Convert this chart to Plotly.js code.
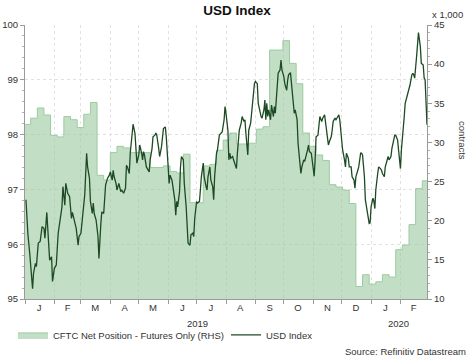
<!DOCTYPE html>
<html><head><meta charset="utf-8">
<script src="https://cdn.plot.ly/plotly-3.0.1.min.js"></script>
<style>html,body{margin:0;padding:0;background:#fff}#chart{width:474px;height:363px}</style>
</head><body><div id="chart"></div>
<script>
// USD Index (left axis)
const usdDates = [
'2019-01-02','2019-01-03','2019-01-04','2019-01-06','2019-01-07','2019-01-09','2019-01-10','2019-01-12','2019-01-13','2019-01-15','2019-01-17','2019-01-19','2019-01-21','2019-01-22','2019-01-24','2019-01-26','2019-01-27','2019-01-29','2019-01-30',
'2019-02-01','2019-02-03','2019-02-05','2019-02-07','2019-02-09','2019-02-10','2019-02-12','2019-02-13','2019-02-15','2019-02-17','2019-02-19','2019-02-20','2019-02-22','2019-02-24','2019-02-26','2019-02-27',
'2019-03-01','2019-03-03','2019-03-05','2019-03-07','2019-03-08','2019-03-10','2019-03-11','2019-03-13','2019-03-14','2019-03-15','2019-03-17','2019-03-19','2019-03-20','2019-03-22','2019-03-23','2019-03-25','2019-03-26','2019-03-27','2019-03-29','2019-03-31',
'2019-04-01','2019-04-03','2019-04-04','2019-04-05','2019-04-07','2019-04-08','2019-04-10','2019-04-12','2019-04-13','2019-04-15','2019-04-17','2019-04-18','2019-04-19','2019-04-21','2019-04-22','2019-04-24','2019-04-25','2019-04-27','2019-04-28','2019-04-29',
'2019-05-01','2019-05-02','2019-05-04','2019-05-05','2019-05-06','2019-05-07','2019-05-09','2019-05-11','2019-05-12','2019-05-13','2019-05-15','2019-05-16','2019-05-18','2019-05-19','2019-05-20','2019-05-22','2019-05-23','2019-05-25','2019-05-26','2019-05-27','2019-05-29','2019-05-30',
'2019-06-01','2019-06-02','2019-06-03','2019-06-05','2019-06-06','2019-06-08','2019-06-09','2019-06-10','2019-06-11','2019-06-13','2019-06-14','2019-06-15','2019-06-17','2019-06-18','2019-06-20','2019-06-21','2019-06-22','2019-06-24','2019-06-25','2019-06-27','2019-06-28','2019-06-29',
'2019-07-01','2019-07-02','2019-07-04','2019-07-05','2019-07-06','2019-07-08','2019-07-09','2019-07-11','2019-07-12','2019-07-13','2019-07-15','2019-07-16','2019-07-18','2019-07-19','2019-07-20','2019-07-22','2019-07-23','2019-07-25','2019-07-27','2019-07-28','2019-07-30','2019-07-31',
'2019-08-01','2019-08-03','2019-08-04','2019-08-05','2019-08-06','2019-08-08','2019-08-09','2019-08-11','2019-08-12','2019-08-13','2019-08-14','2019-08-15','2019-08-17','2019-08-18','2019-08-20','2019-08-21','2019-08-22','2019-08-24','2019-08-25','2019-08-27','2019-08-28','2019-08-29','2019-08-31',
'2019-09-01','2019-09-03','2019-09-04','2019-09-06','2019-09-07','2019-09-08','2019-09-10','2019-09-11','2019-09-12','2019-09-13','2019-09-14','2019-09-15','2019-09-17','2019-09-18','2019-09-20','2019-09-21','2019-09-22','2019-09-24','2019-09-25','2019-09-27','2019-09-28','2019-09-29',
'2019-10-01','2019-10-02','2019-10-04','2019-10-05','2019-10-06','2019-10-08','2019-10-09','2019-10-11','2019-10-12','2019-10-13','2019-10-15','2019-10-16','2019-10-18','2019-10-19','2019-10-20','2019-10-22','2019-10-23','2019-10-25','2019-10-26','2019-10-27','2019-10-28','2019-10-30','2019-10-31',
'2019-11-01','2019-11-02','2019-11-03','2019-11-04','2019-11-06','2019-11-07','2019-11-08','2019-11-10','2019-11-11','2019-11-13','2019-11-14','2019-11-15','2019-11-17','2019-11-18','2019-11-20','2019-11-21','2019-11-22','2019-11-24','2019-11-25','2019-11-27','2019-11-28','2019-11-29',
'2019-12-01','2019-12-02','2019-12-04','2019-12-05','2019-12-06','2019-12-08','2019-12-09','2019-12-11','2019-12-12','2019-12-14','2019-12-15','2019-12-16','2019-12-18','2019-12-19','2019-12-21','2019-12-22','2019-12-23','2019-12-25','2019-12-26','2019-12-28','2019-12-29','2019-12-30','2019-12-31',
'2020-01-01','2020-01-03','2020-01-04','2020-01-05','2020-01-06','2020-01-08','2020-01-09','2020-01-11','2020-01-12','2020-01-13','2020-01-15','2020-01-16','2020-01-18','2020-01-19','2020-01-20','2020-01-22','2020-01-23','2020-01-25','2020-01-26','2020-01-27','2020-01-29','2020-01-30',
'2020-02-01','2020-02-02','2020-02-03','2020-02-05','2020-02-06','2020-02-08','2020-02-09','2020-02-10','2020-02-11','2020-02-13','2020-02-14','2020-02-15','2020-02-16','2020-02-18','2020-02-19','2020-02-20','2020-02-22','2020-02-23','2020-02-25','2020-02-26','2020-02-27','2020-02-28','2020-02-29'
];
const usdValues = [
96.81,96.44,96.20,95.83,95.59,95.19,95.47,95.65,95.59,96.02,96.05,96.32,96.29,96.11,96.58,95.80,95.71,95.77,95.32,
95.56,95.62,96.20,96.44,96.68,97.05,96.71,97.11,96.93,96.87,96.47,96.58,96.44,96.29,95.98,96.14,
96.20,96.62,96.90,97.66,97.41,97.20,96.78,96.56,96.75,96.56,96.44,96.14,95.74,96.38,96.59,96.56,96.81,97.08,97.20,97.26,
97.32,97.17,97.35,97.23,97.11,96.99,97.11,96.96,96.99,96.93,97.02,97.44,97.41,97.29,97.66,98.14,98.19,98.02,97.66,97.48,
97.63,97.81,97.66,97.54,97.69,97.63,97.41,97.35,97.32,97.54,97.75,97.96,97.99,98.03,97.99,97.75,97.60,97.78,97.99,98.11,98.14,97.96,
97.41,97.11,97.26,97.17,97.05,96.81,96.53,96.78,96.68,96.96,97.41,97.60,97.54,97.11,96.68,96.32,96.02,95.98,96.17,96.20,96.14,96.47,
96.78,96.75,96.78,96.99,97.23,97.48,97.23,97.05,96.99,97.23,97.41,97.17,97.05,96.81,97.23,97.66,97.72,97.99,98.02,98.05,98.27,98.51,
98.39,98.08,97.54,97.66,97.57,97.60,97.54,97.44,97.38,97.66,97.93,98.08,98.21,98.33,98.24,98.27,98.02,97.63,98.08,98.21,98.39,98.63,98.93,
98.97,98.93,98.57,98.39,98.33,98.30,98.45,98.63,98.27,98.57,98.33,98.45,98.27,98.54,98.33,98.51,98.39,98.87,99.12,99.18,99.36,99.18,
99.06,98.93,98.81,98.99,99.09,99.13,98.97,98.63,98.39,98.45,98.27,97.84,97.54,97.29,97.41,97.54,97.51,97.63,97.72,97.81,97.69,97.66,97.54,
97.35,97.24,97.54,97.96,97.99,98.21,98.33,98.24,98.30,98.36,98.21,98.02,97.81,97.87,97.96,98.08,98.24,98.30,98.27,98.33,98.36,98.27,
97.84,97.72,97.54,97.41,97.66,97.57,97.41,97.41,97.23,97.17,97.02,97.23,97.35,97.41,97.66,97.66,97.63,97.23,96.81,96.56,96.44,96.38,96.39,
96.68,96.84,96.78,96.65,96.99,97.29,97.41,97.38,97.35,97.29,97.23,97.41,97.57,97.60,97.54,97.60,97.75,97.90,97.99,97.99,97.90,97.72,
97.38,97.72,97.99,98.33,98.57,98.69,98.78,98.81,98.90,99.09,99.12,99.09,99.03,99.42,99.70,99.86,99.60,99.30,99.27,99.03,99.00,98.57,98.18
];
// CFTC net position, futures only, thousands of contracts (right axis)
const cftcDates = [
'2018-12-31','2019-01-07','2019-01-14','2019-01-21','2019-01-28','2019-02-04','2019-02-11','2019-02-18','2019-02-25','2019-03-04','2019-03-11','2019-03-18','2019-03-25',
'2019-04-01','2019-04-08','2019-04-15','2019-04-22','2019-04-29','2019-05-06','2019-05-13','2019-05-20','2019-05-27','2019-06-03','2019-06-10','2019-06-17','2019-06-24',
'2019-07-01','2019-07-08','2019-07-15','2019-07-22','2019-07-29','2019-08-05','2019-08-12','2019-08-19','2019-08-26','2019-09-02','2019-09-09','2019-09-16','2019-09-23','2019-09-30',
'2019-10-07','2019-10-14','2019-10-21','2019-10-28','2019-11-04','2019-11-11','2019-11-18','2019-11-25','2019-12-02','2019-12-09','2019-12-16','2019-12-23','2019-12-30',
'2020-01-06','2020-01-13','2020-01-20','2020-01-27','2020-02-03','2020-02-10','2020-02-17','2020-02-24','2020-02-29'
];
const cftcValues = [
32.3,33.1,34.4,33.5,30.9,30.7,33.3,32.9,31.9,33.6,35.1,25.8,25.2,
28.7,29.5,29.3,28.7,28.7,28.7,26.8,26.8,27.0,26.3,26.1,28.5,22.3,
22.3,27.0,27.2,29.0,30.3,31.2,29.8,29.8,29.9,31.7,32.0,41.8,41.8,43.0,
40.1,37.5,31.2,29.5,28.4,27.7,24.6,24.3,23.9,22.2,11.6,13.1,11.9,
12.2,13.1,12.8,16.3,16.9,19.5,24.1,25.1,25.1
];
const monthLabelDates = ['2019-01-16','2019-02-15','2019-03-16','2019-04-16','2019-05-16','2019-06-16','2019-07-16','2019-08-16','2019-09-16','2019-10-16','2019-11-16','2019-12-16','2020-01-16','2020-02-15'];
const monthLabels = ['J','F','M','A','M','J','J','A','S','O','N','D','J','F'];
const yearLabels = ['2019','2020'];
const yearLabelDates = ['2019-07-02','2020-01-30'];

const FONT = 'Liberation Sans, Arial, sans-serif';
const traces = [
  {
    x: cftcDates, y: cftcValues, type: 'scatter', mode: 'lines',
    line: {shape: 'hv', color: '#9ccba2', width: 1},
    fill: 'tozeroy', fillcolor: 'rgba(150,200,156,0.58)',
    name: 'CFTC Net Position - Futures Only (RHS)',
    yaxis: 'y', legend: 'legend'
  },
  {
    x: usdDates, y: usdValues, type: 'scatter', mode: 'lines',
    line: {color: '#1d4a22', width: 1.3},
    name: 'USD Index', yaxis: 'y2', legend: 'legend2'
  }
];

const layout = {
  width: 474, height: 363,
  margin: {l: 25, r: 47, t: 25, b: 64},
  paper_bgcolor: '#ffffff', plot_bgcolor: '#ffffff',
  font: {family: FONT, size: 9.5, color: '#333'},
  title: {text: '<b>USD Index</b>', font: {family: FONT, size: 13.5, color: '#111'},
          x: 0.5, xref: 'container', xanchor: 'center', y: 0.972, yref: 'container', yanchor: 'middle'},
  showlegend: true,
  xaxis: {
    type: 'date', range: ['2019-01-01', '2020-02-29'],
    tickmode: 'array', tickvals: monthLabelDates, ticktext: monthLabels,
    ticks: '', showgrid: false, showline: true, linecolor: '#9a9a9a', linewidth: 1,
    tickfont: {family: FONT, size: 9.5, color: '#333'},
    minor: {tick0: '2019-01-01', dtick: 'M1', ticks: 'outside', ticklen: 4, tickcolor: '#9a9a9a',
            showgrid: true, gridcolor: '#e2e2e2', griddash: 'dot', gridwidth: 1},
    zeroline: false, fixedrange: true
  },
  yaxis: {
    side: 'right', range: [10, 45], dtick: 5, tick0: 10,
    showgrid: false, showline: true, linecolor: '#9a9a9a',
    ticks: 'outside', ticklen: 4, tickcolor: '#9a9a9a',
    minor: {dtick: 1, ticks: 'outside', ticklen: 2, tickcolor: '#b0b0b0'},
    tickfont: {family: FONT, size: 9.5, color: '#333'}, zeroline: false
  },
  yaxis2: {
    side: 'left', overlaying: 'y', range: [95, 100], dtick: 1, tick0: 95,
    showgrid: true, gridcolor: '#e2e2e2', griddash: 'dot',
    showline: true, linecolor: '#9a9a9a',
    ticks: 'outside', ticklen: 4, tickcolor: '#9a9a9a',
    minor: {dtick: 0.2, ticks: 'outside', ticklen: 2, tickcolor: '#b0b0b0'},
    tickfont: {family: FONT, size: 9.5, color: '#333'}, zeroline: false
  },
  legend: {orientation: 'h', x: -0.03, xanchor: 'left', y: -0.131, yanchor: 'middle',
           font: {family: FONT, size: 9.5, color: '#333'}, bgcolor: 'rgba(0,0,0,0)'},
  legend2: {orientation: 'h', x: 0.5, xanchor: 'left', y: -0.131, yanchor: 'middle',
           font: {family: FONT, size: 9.5, color: '#333'}, bgcolor: 'rgba(0,0,0,0)'},
  annotations: [
    {text: yearLabels[0], x: yearLabelDates[0], xref: 'x', y: -0.0876, yref: 'paper', yanchor: 'middle', showarrow: false, font: {family: FONT, size: 9.5, color: '#333'}},
    {text: yearLabels[1], x: yearLabelDates[1], xref: 'x', y: -0.0876, yref: 'paper', yanchor: 'middle', showarrow: false, font: {family: FONT, size: 9.5, color: '#333'}},
    {text: 'x 1,000', x: 1.0498, xref: 'paper', y: 1.0365, yref: 'paper', xanchor: 'center', yanchor: 'middle', showarrow: false, font: {family: FONT, size: 9.5, color: '#333'}},
    {text: 'contracts', x: 1.0896, xref: 'paper', y: 0.58, yref: 'paper', xanchor: 'center', yanchor: 'middle', textangle: 90, showarrow: false, font: {family: FONT, size: 9.5, color: '#333'}},
    {text: 'Source: Refinitiv Datastream', x: 1.102, xref: 'paper', y: -0.19, yref: 'paper', xanchor: 'right', yanchor: 'middle', showarrow: false, font: {family: FONT, size: 9.5, color: '#333'}}
  ]
};

Plotly.newPlot('chart', traces, layout, {displayModeBar: false, staticPlot: true});
</script>
</body></html>
